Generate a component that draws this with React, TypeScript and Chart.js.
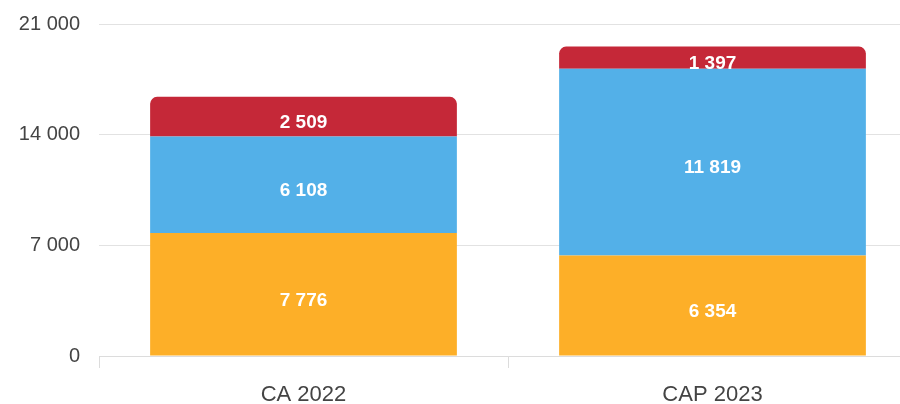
import React, { useEffect, useRef } from "react";
import { Chart, registerables } from "chart.js";

Chart.register(...registerables);

const categories = ["CA 2022", "CAP 2023"];
const seriesOrange = [7776, 6354];
const seriesBlue = [6108, 11819];
const seriesRed = [2509, 1397];
const yTicks = [0, 7000, 14000, 21000];

const fmt = (v: number) => String(Math.round(v)).replace(/\B(?=(\d{3})+(?!\d))/g, " ");

const labelPlugin = {
  id: "segLabels",
  afterDatasetsDraw(chart: any) {
    const ctx = chart.ctx;
    ctx.save();
    ctx.fillStyle = "#ffffff";
    ctx.font = "bold 19px 'Liberation Sans', Arial, sans-serif";
    ctx.textAlign = "center";
    ctx.textBaseline = "middle";
    chart.data.datasets.forEach((ds: any, i: number) => {
      const meta = chart.getDatasetMeta(i);
      meta.data.forEach((bar: any, j: number) => {
        const y = (bar.y + bar.base) / 2 + 6;
        ctx.fillText(fmt(ds.data[j]), bar.x, y);
      });
    });
    ctx.restore();
  },
};

export default function App() {
  const ref = useRef<HTMLCanvasElement>(null);
  useEffect(() => {
    if (!ref.current) return;
    const chart = new Chart(ref.current, {
      type: "bar",
      data: {
        labels: categories,
        datasets: [
          { label: "A", data: seriesOrange, backgroundColor: "#FDAF28", borderWidth: 0 },
          { label: "B", data: seriesBlue, backgroundColor: "#53B0E8", borderWidth: 0 },
          {
            label: "C",
            data: seriesRed,
            backgroundColor: "#C52838",
            borderWidth: 0,
            borderRadius: { topLeft: 7, topRight: 7, bottomLeft: 0, bottomRight: 0 },
            borderSkipped: false,
          },
        ],
      },
      options: {
        animation: false,
        responsive: false,
        maintainAspectRatio: false,
        layout: { padding: { top: 20, right: 3, left: 0, bottom: 0 } },
        plugins: { legend: { display: false }, tooltip: { enabled: false } },
        datasets: { bar: { categoryPercentage: 0.75, barPercentage: 1 } },
        scales: {
          x: {
            stacked: true,
            offset: true,
            afterFit: (s: any) => { s.height = 48; },
            grid: { drawOnChartArea: false, drawTicks: true, tickLength: 12, offset: true, color: "#dcdcdc" },
            border: { display: true, color: "#dcdcdc" },
            ticks: { padding: 14, color: "#444", font: { size: 22, family: "'Liberation Sans', Arial, sans-serif" } },
          },
          y: {
            stacked: true,
            min: 0,
            max: 21000,
            afterFit: (s: any) => { s.width = 99; },
            afterBuildTicks: (s: any) => { s.ticks = yTicks.map((v) => ({ value: v })); },
            grid: { color: "#e2e2e2", drawTicks: false },
            border: { display: false },
            ticks: {
              padding: 19,
              color: "#444",
              font: { size: 20, family: "'Liberation Sans', Arial, sans-serif" },
              callback: (v: any) => fmt(Number(v)),
            },
          },
        },
      },
      plugins: [labelPlugin],
    });
    return () => chart.destroy();
  }, []);
  return (
    <div style={{ position: "absolute", left: 0, top: 0, width: 900, height: 404, overflow: "hidden", background: "#fff" }}>
      <canvas ref={ref} width={920} height={411} style={{ display: "block", position: "absolute", left: 0, top: -7, width: 920, height: 411 }} />
    </div>
  );
}
